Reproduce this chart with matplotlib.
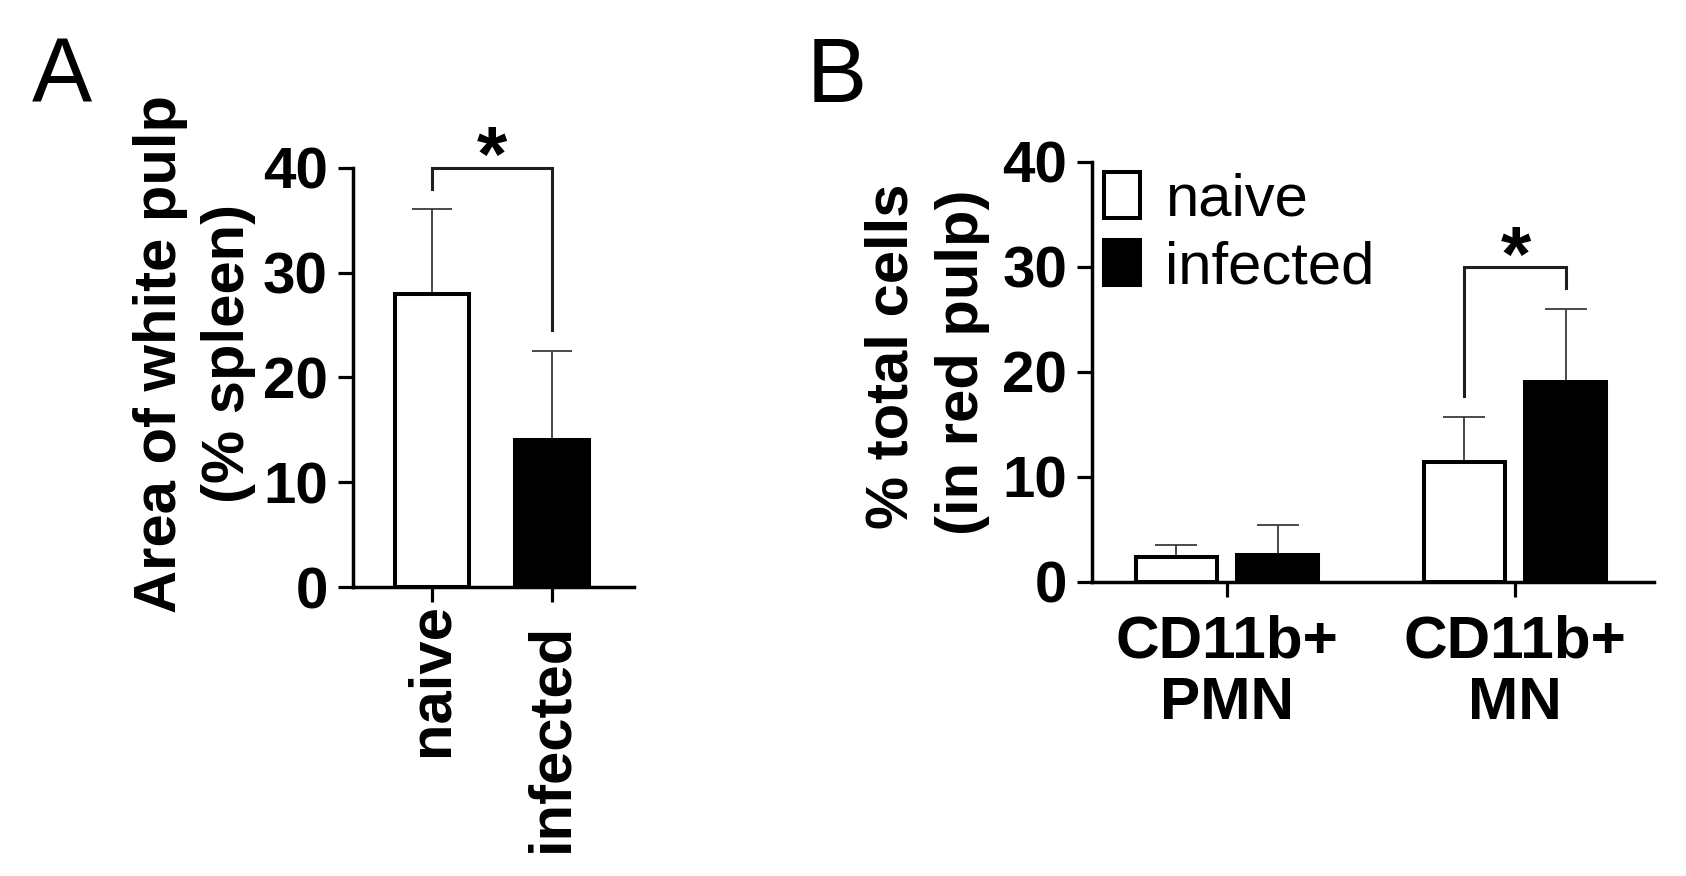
import matplotlib
matplotlib.use('Agg')
import matplotlib.pyplot as plt
from matplotlib.transforms import offset_copy
import numpy as np

# ---------------- data ----------------
a_groups = ['naive', 'infected']
a_means = [28.0, 14.0]
a_err = [8.1, 8.5]

b_categories = ['CD11b+\nPMN', 'CD11b+\nMN']
b_series = ['naive', 'infected']
b_naive = [2.35, 11.4]
b_naive_err = [1.15, 4.25]
b_infected = [2.55, 19.0]
b_infected_err = [2.85, 7.0]

y_ticks = [0, 10, 20, 30, 40]

# ---------------- layout helpers ----------------
W, H, DPI = 1686, 876, 100
fig = plt.figure(figsize=(W / DPI, H / DPI), dpi=DPI)
fig.patch.set_facecolor('white')


def px_axes(left, right, top, bottom):
    return fig.add_axes([left / W, (H - bottom) / H, (right - left) / W, (bottom - top) / H])


def fx(x):
    return x / W


def fy(y):
    return 1 - y / H


FAM = 'Liberation Sans'
FS = 43
TICK_FS = 42
EDGE_LW = 2.9     # bar outline (pt)
SPINE_LW = 2.5
ERR_COLOR = '#3c3c3c'
BR_COLOR = '#1e1e1e'


def style_axes(ax):
    for s in ['top', 'right']:
        ax.spines[s].set_visible(False)
    for s in ['left', 'bottom']:
        ax.spines[s].set_linewidth(SPINE_LW)
        ax.spines[s].set_color('black')
    ax.set_ylim(0, 40)
    ax.set_yticks(y_ticks)
    ax.set_yticklabels([str(t) for t in y_ticks], fontsize=TICK_FS, family=FAM, weight='bold')
    ax.tick_params(axis='y', length=10.8, width=2.3, pad=7, color='black')
    ax.tick_params(axis='x', length=10.8, width=2.3, color='black')
    ax.set_facecolor('none')


# ================= Panel A =================
axA = px_axes(352.7, 634, 167.7, 587.3)
xa = np.arange(len(a_groups))
axA.set_xlim(-0.658, 1.683)
axA.errorbar(xa, a_means, yerr=[np.zeros(len(a_err)), a_err], fmt='none',
             ecolor=ERR_COLOR, elinewidth=1.3, capsize=14.4, capthick=1.3, zorder=1)
axA.bar(xa, a_means, width=0.62, color=['white', 'black'], edgecolor='black',
        linewidth=EDGE_LW, zorder=2)
style_axes(axA)
axA.set_xticks(xa)
axA.set_xticklabels([])
# rotated category labels
a_label_drop = [16, 36]
for x, lab, d in zip(xa, a_groups, a_label_drop):
    tr = offset_copy(axA.get_xaxis_transform(), fig=fig, x=0, y=-d, units='dots')
    axA.text(x, 0, lab, transform=tr, rotation=90, ha='center', va='top',
             fontsize=FS, family=FAM, weight='bold', clip_on=False)
# significance bracket
axA.plot([xa[0], xa[0], xa[1], xa[1]], [38.0, 40.0, 40.0, 24.5], color=BR_COLOR,
         lw=2.2, clip_on=False, solid_joinstyle='miter', zorder=3)
fig.text(fx(492), fy(181), '*', ha='center', va='baseline', fontsize=56,
         family=FAM, weight='bold')

fig.text(fx(160), fy(354), 'Area of white pulp', rotation=90, ha='center', va='center',
         fontsize=FS, family=FAM, weight='bold')
fig.text(fx(228), fy(353), '(% spleen)', rotation=90, ha='center', va='center',
         fontsize=FS, family=FAM, weight='bold')
fig.text(fx(32), fy(102), 'A', ha='left', va='baseline', fontsize=65, family=FAM)

# ================= Panel B =================
axB = px_axes(1092, 1654, 161.7, 581.7)
xb = np.arange(len(b_categories))
axB.set_xlim(-0.469, 1.483)
off = 0.176
bw = 0.28
axB.errorbar(xb - off, b_naive, yerr=[np.zeros(2), b_naive_err], fmt='none',
             ecolor=ERR_COLOR, elinewidth=1.3, capsize=15, capthick=1.3, zorder=1)
axB.errorbar(xb + off, b_infected, yerr=[np.zeros(2), b_infected_err], fmt='none',
             ecolor=ERR_COLOR, elinewidth=1.3, capsize=15, capthick=1.3, zorder=1)
bn = axB.bar(xb - off, b_naive, width=bw, color='white', edgecolor='black',
             linewidth=EDGE_LW, zorder=2, label=b_series[0])
bi = axB.bar(xb + off, b_infected, width=bw, color='black', edgecolor='black',
             linewidth=EDGE_LW, zorder=2, label=b_series[1])
style_axes(axB)
axB.set_xticks(xb)
axB.set_xticklabels(b_categories, fontsize=FS + 0.5, family=FAM, weight='bold',
                    linespacing=1.15)
axB.tick_params(axis='x', pad=13)
# bracket
axB.plot([xb[1] - off, xb[1] - off, xb[1] + off, xb[1] + off], [17.7, 30.0, 30.0, 28.0],
         color=BR_COLOR, lw=2.2, clip_on=False, solid_joinstyle='miter', zorder=3)
fig.text(fx(1516), fy(281), '*', ha='center', va='baseline', fontsize=56,
         family=FAM, weight='bold')

leg = axB.legend(handles=[bn, bi], labels=b_series, loc='upper left',
                 bbox_to_anchor=(fx(1104), fy(172)), bbox_transform=fig.transFigure,
                 frameon=False, prop=dict(family=FAM, size=FS),
                 handlelength=0.6, handleheight=0.8, handletextpad=0.42,
                 labelspacing=0.2, borderpad=0, borderaxespad=0)

fig.text(fx(892), fy(356), '% total cells', rotation=90, ha='center', va='center',
         fontsize=FS, family=FAM, weight='bold')
fig.text(fx(962), fy(362), '(in red pulp)', rotation=90, ha='center', va='center',
         fontsize=FS, family=FAM, weight='bold')
fig.text(fx(807), fy(102), 'B', ha='left', va='baseline', fontsize=65, family=FAM)

fig.savefig('out.png', dpi=DPI)
